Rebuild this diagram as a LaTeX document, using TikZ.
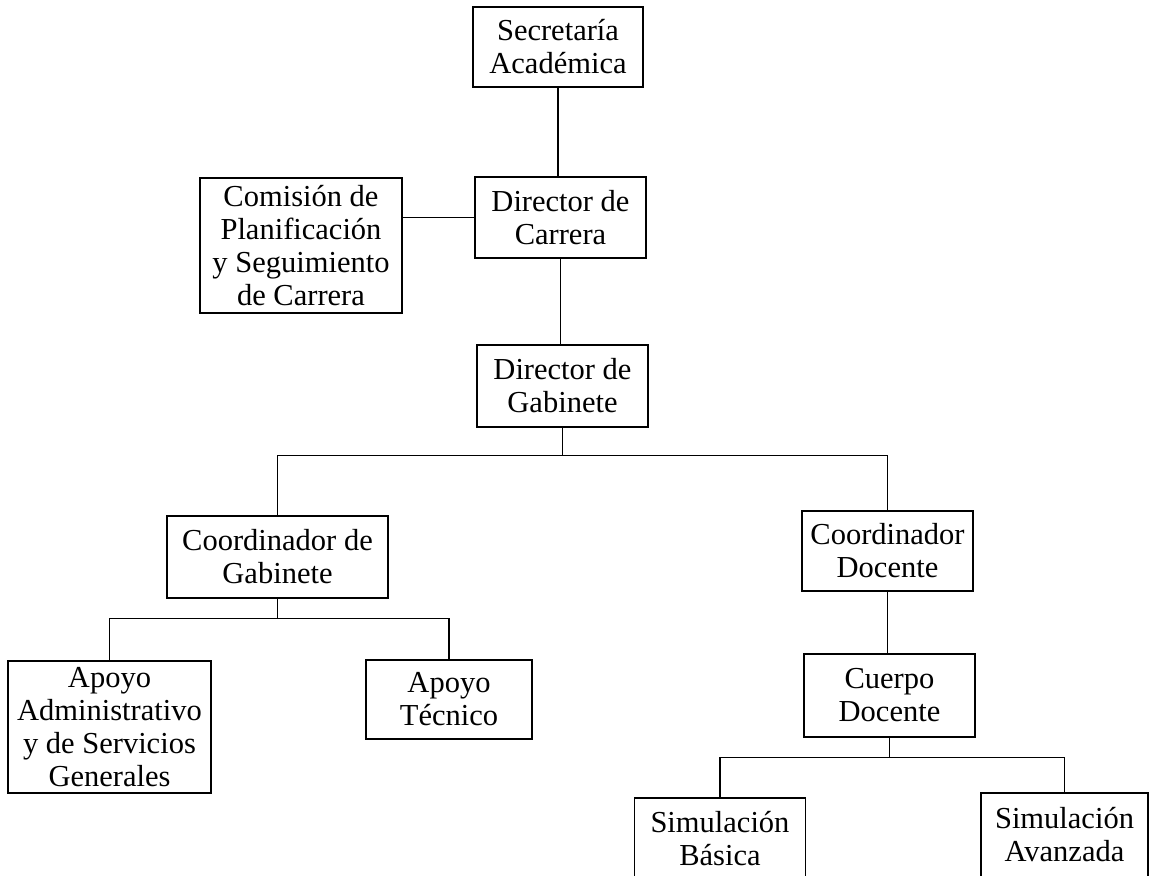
\documentclass[tikz,border=0pt]{standalone}
\usepackage{fontspec}
\setmainfont{Liberation Serif}
\tikzset{
  caja/.style={draw, line width=1.2pt, align=center, inner sep=0pt,
    font=\fontsize{30.5}{33}\selectfont},
  linea/.style={line width=1.2pt}
}
\begin{document}
\begin{tikzpicture}[x=1pt,y=-1pt]
        \useasboundingbox (0,0) rectangle (1152,876);

        % Cajas superiores
        \node[caja, minimum width=170, minimum height=80] (sec) at (558,47) {Secretaría\\Académica};
        \node[caja, minimum width=171, minimum height=81] (dcar) at (560.5,217.5) {Director de\\Carrera};
        \node[caja, minimum width=202, minimum height=135] (com) at (301,245.5) {Comisión de\\Planificación\\y Seguimiento\\de Carrera};
        \node[caja, minimum width=171, minimum height=82] (dgab) at (562.5,386) {Director de\\Gabinete};

        % Rama del gabinete
        \node[caja, minimum width=221, minimum height=82] (cgab) at (277.5,557) {Coordinador de\\Gabinete};
        \node[caja, minimum width=203, minimum height=132] (apadm) at (109.5,727) {Apoyo\\Administrativo\\y de Servicios\\Generales};
        \node[caja, minimum width=166, minimum height=79] (aptec) at (449,699.5) {Apoyo\\Técnico};

        % Rama docente
        \node[caja, minimum width=171, minimum height=80] (cdoc) at (887.5,551) {Coordinador\\Docente};
        \node[caja, minimum width=171, minimum height=83] (cuer) at (889.5,695.5) {Cuerpo\\Docente};
        \node[caja, minimum width=171, minimum height=82] (sbas) at (720,839) {Simulación\\Básica};
        \node[caja, minimum width=167, minimum height=84] (savz) at (1064.5,835) {Simulación\\Avanzada};

        % Conexiones
        \draw[linea] (sec.south) -- (sec.south |- dcar.north);
        \draw[linea] (dcar.west) -- (dcar.west -| com.east);
        \draw[linea] (dcar.south) -- (dcar.south |- dgab.north);
        \draw[linea] (dgab.south) -- ++(0,28) -| (cgab.north);
        \draw[linea] (dgab.south) -- ++(0,28) -| (cdoc.north);
        \draw[linea] (cgab.south) -- ++(0,20) -| (apadm.north);
        \draw[linea] (cgab.south) -- ++(0,20) -| (aptec.north);
        \draw[linea] (cdoc.south) -- (cdoc.south |- cuer.north);
        \draw[linea] (cuer.south) -- ++(0,20) -| (sbas.north);
        \draw[linea] (cuer.south) -- ++(0,20) -| (savz.north);
\end{tikzpicture}
\end{document}
